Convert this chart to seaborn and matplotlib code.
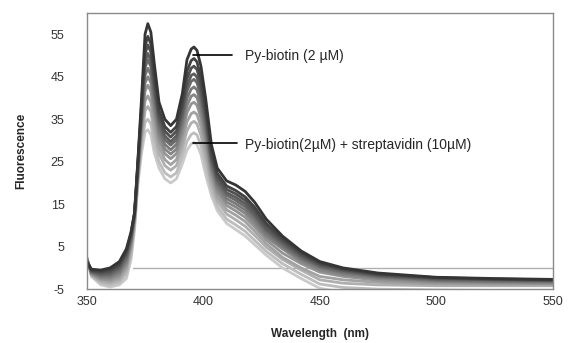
import pandas as pd
import seaborn as sns
import matplotlib.pyplot as plt

# wavelength grid (nm) shared by all spectra
wavelength = [350, 352, 356, 360, 364, 367, 369, 370.5, 372, 373.5,
              375, 376.2, 377.5, 379, 381, 383.5, 386, 388.5, 391, 393,
              394.8, 396, 397.3, 399, 401, 403.5, 406, 410, 414, 418,
              422, 427, 434, 442, 450, 460, 475, 500, 525, 550]

# spectra, darkest (Py-biotin alone) to lightest (most streptavidin)
c01 = [1.5, -0.3, -0.5, 0.0, 1.5, 4.5, 8.5, 13, 26, 40,
       55, 57.5, 55.5, 48, 39, 35, 33.5, 35, 41, 49,
       51.5, 52, 51.2, 47.5, 40, 29, 23.5, 20.5, 19.5, 18,
       15.5, 11.5, 7.5, 4, 1.5, 0, -1.2, -2.2, -2.5, -2.7]
c02 = [1.6, -0.5, -0.8, -0.4, 1.0, 4.0, 8.2, 13, 25.5, 38.4,
       52.2, 54.5, 52.7, 45.4, 37.1, 33.3, 31.9, 33.3, 39, 46.3,
       48.8, 49.3, 48.5, 44.8, 37.8, 27.6, 22.3, 19.3, 18.2, 16.7,
       14.3, 10.5, 7, 3.6, 1.2, -0.2, -1.4, -2.3, -2.6, -2.8]
c03 = [1.7, -0.7, -1.1, -0.8, 0.6, 3.5, 7.8, 12.8, 25, 37.4,
       50.3, 52.5, 50.8, 43.7, 35.9, 32.2, 30.8, 32.2, 37.7, 44.5,
       47, 47.5, 46.7, 43.1, 36.4, 26.6, 21.5, 18.5, 17.4, 15.9,
       13.5, 9.8, 6.5, 3.2, 0.9, -0.4, -1.6, -2.4, -2.7, -2.9]
c04 = [1.8, -0.8, -1.4, -1.2, 0.1, 3.0, 7.4, 12.6, 24.5, 36.4,
       48.4, 50.5, 48.8, 42, 34.7, 31.1, 29.7, 31.1, 36.4, 42.8,
       45.3, 45.7, 44.9, 41.5, 35, 25.6, 20.7, 17.7, 16.6, 15.1,
       12.7, 9.1, 6, 2.8, 0.6, -0.6, -1.8, -2.6, -2.8, -3.0]
c05 = [1.9, -1.0, -1.7, -1.6, -0.4, 2.4, 7.0, 12.4, 24, 35.6,
       47.1, 49, 47.4, 40.8, 33.7, 30.2, 28.9, 30.2, 35.4, 41.6,
       43.9, 44.4, 43.6, 40.2, 33.9, 24.9, 20.1, 17.1, 15.9, 14.4,
       12.1, 8.6, 5.5, 2.4, 0.3, -0.9, -2.0, -2.8, -3.0, -3.1]
c06 = [2.0, -1.1, -2.0, -2.0, -0.9, 1.8, 6.5, 12.2, 23.5, 34.5,
       45.3, 47, 45.4, 39.1, 32.5, 29.1, 27.8, 29.1, 34.1, 39.9,
       42.1, 42.6, 41.9, 38.6, 32.4, 24, 19.3, 16.3, 15.1, 13.6,
       11.3, 7.9, 5, 2, 0, -1.2, -2.2, -3.0, -3.2, -3.3]
c07 = [2.1, -1.3, -2.3, -2.4, -1.4, 1.2, 6.0, 12, 23, 33.5,
       43.5, 45, 43.6, 37.5, 31.3, 28, 26.8, 28, 32.8, 38.2,
       40.4, 40.8, 40.1, 37, 31, 23, 18.5, 15.5, 14.3, 12.8,
       10.5, 7.3, 4.5, 1.5, -0.5, -1.6, -2.5, -3.2, -3.4, -3.5]
c08 = [2.2, -1.4, -2.6, -2.8, -1.9, 0.6, 5.4, 11.6, 22.5, 32.5,
       41.6, 43, 41.6, 35.8, 30, 26.9, 25.7, 26.9, 31.4, 36.5,
       38.6, 39, 38.3, 35.3, 29.6, 22, 17.7, 14.7, 13.4, 11.9,
       9.7, 6.6, 3.5, 1, -1, -2, -2.9, -3.5, -3.6, -3.7]
c09 = [2.3, -1.6, -2.9, -3.2, -2.4, 0, 4.8, 11.2, 22, 31.2,
       39.3, 40.5, 39.1, 33.7, 28.5, 25.5, 24.3, 25.5, 29.8, 34.4,
       36.3, 36.7, 36.1, 33.3, 27.8, 20.8, 16.7, 13.7, 12.4, 10.9,
       8.7, 5.7, 2.5, 0, -2, -2.8, -3.4, -3.8, -3.9, -3.9]
c10 = [2.4, -1.7, -3.2, -3.6, -2.9, -0.7, 4.0, 10.6, 21.5, 29.9,
       37, 38, 36.8, 31.6, 26.9, 24.1, 23, 24.1, 28.1, 32.3,
       34.1, 34.5, 33.9, 31.2, 26, 19.6, 15.7, 12.7, 11.3, 9.8,
       7.7, 4.9, 2, -0.5, -2.8, -3.6, -4, -4.2, -4.2, -4.2]
c11 = [2.5, -1.9, -3.6, -4.1, -3.5, -1.5, 3.0, 10, 21, 28.3,
       34.3, 35, 33.9, 29.1, 25, 22.4, 21.4, 22.4, 26.2, 29.8,
       31.4, 31.8, 31.3, 28.8, 23.8, 18.2, 14.5, 11.5, 10.1, 8.6,
       6.5, 3.9, 1, -1.5, -3.8, -4.6, -5, -5.2, -5.3, -5.4]
c12 = [2.5, -2.0, -4.0, -4.5, -4.0, -2.5, 2.0, 9, 20, 27,
       32, 32.5, 31.4, 27, 23.5, 21, 20, 21, 24.5, 27.7,
       29.2, 29.5, 29.1, 26.7, 22, 17, 13.5, 10.5, 9, 7.5,
       5.5, 3, 0, -2.5, -4.8, -5.8, -6.2, -6.5, -6.6, -6.7]

spectra = [c01, c02, c03, c04, c05, c06, c07, c08, c09, c10, c11, c12]
xticks = [350, 400, 450, 500, 550]
yticks = [-5, 5, 15, 25, 35, 45, 55]


def main():
    rows = []
    for i, s in enumerate(spectra):
        for w, v in zip(wavelength, s):
            rows.append({'Wavelength': w, 'Fluorescence': v, 'curve': i})
    df = pd.DataFrame(rows)

    sns.set_style("white")
    plt.rcParams['font.family'] = ['Liberation Sans', 'DejaVu Sans']
    plt.rcParams['axes.unicode_minus'] = False

    fig = plt.figure(figsize=(5.71, 3.43), dpi=100)
    ax = fig.add_axes([0.152, 0.157, 0.816, 0.805])

    greys = sns.blend_palette(["#353535", "#cacaca"], len(spectra))
    palette = {i: greys[i] for i in range(len(spectra))}
    # lightest drawn first so the dark spectrum sits on top
    order = list(range(len(spectra)))[::-1]
    sns.lineplot(data=df, x='Wavelength', y='Fluorescence', hue='curve',
                 hue_order=order, palette=palette, linewidth=2.0,
                 legend=False, ax=ax)

    ax.plot([370, 550], [0, 0], color='#b0b0b0', linewidth=1.0, zorder=0)

    ax.set_xlim(350, 550)
    ax.set_ylim(-5, 60)
    ax.set_xticks(xticks)
    ax.set_yticks(yticks)
    ax.tick_params(axis='both', length=0, labelsize=9, colors='#333333')
    ax.tick_params(axis='y', pad=16)
    ax.tick_params(axis='x', pad=5)
    for sp in ax.spines.values():
        sp.set_color('#8a8a8a')
        sp.set_linewidth(1.0)

    ax.set_xlabel('Wavelength  (nm)', fontsize=8.5, fontweight='bold')
    ax.set_ylabel('Fluorescence', fontsize=8.5, fontweight='bold')
    ax.xaxis.set_label_coords(0.5, -0.14)
    ax.yaxis.set_label_coords(-0.128, 0.5)

    # annotations
    ax.plot([395.5, 412.2], [50.1, 50.1], color='black', linewidth=1.2)
    ax.text(417.8, 49.8, 'Py-biotin (2 µM)', fontsize=10, va='center')
    ax.plot([395.5, 414.6], [29.4, 29.4], color='black', linewidth=1.2)
    ax.text(417.8, 29.0, 'Py-biotin(2µM) + streptavidin (10µM)', fontsize=10,
            va='center')

    fig.savefig('out.png', dpi=100)


if __name__ == "__main__":
    main()
